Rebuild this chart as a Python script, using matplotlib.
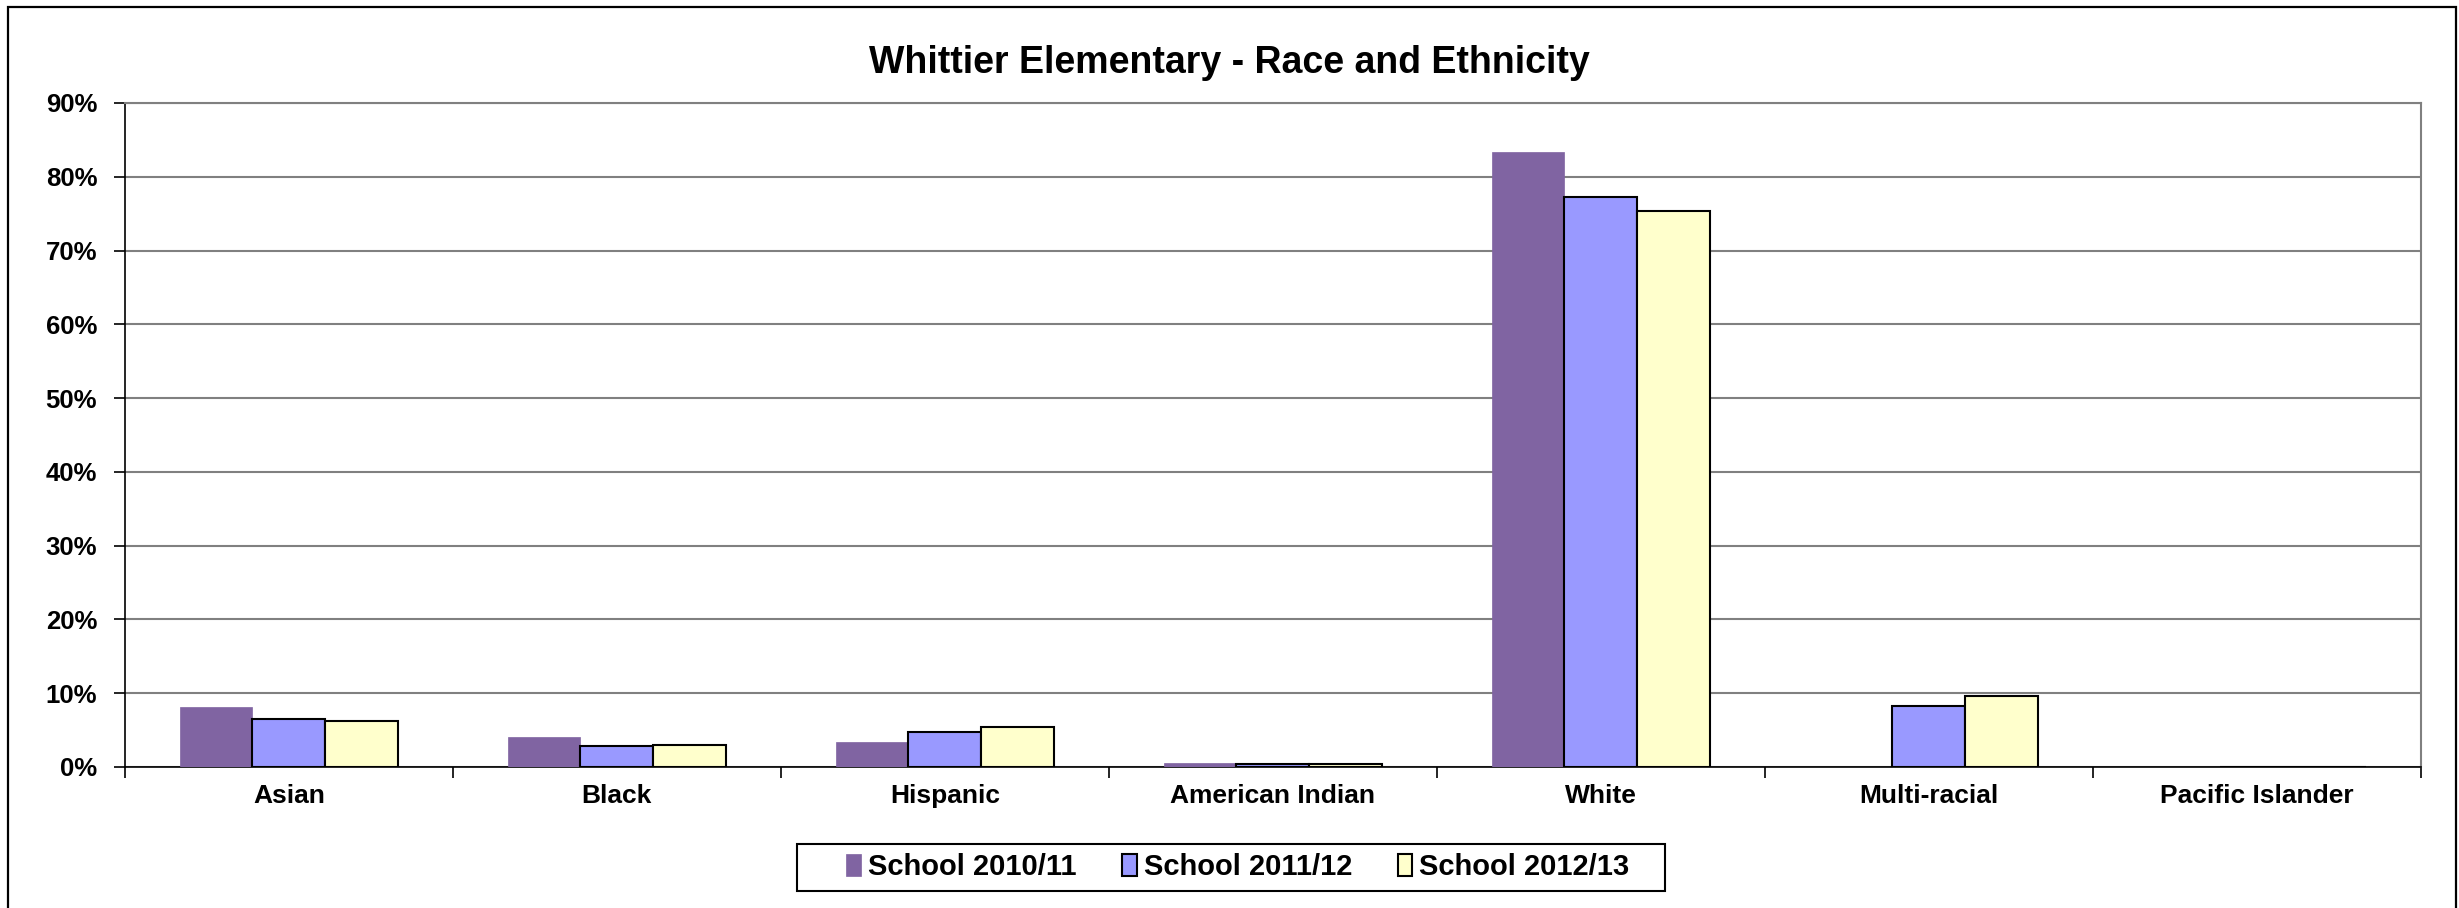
import matplotlib.pyplot as plt
import matplotlib.patches as mpatches
import numpy as np

plt.rcParams['font.family'] = ['Liberation Sans', 'DejaVu Sans']
plt.rcParams['font.weight'] = 'bold'

# data (percent)
categories = ['Asian', 'Black', 'Hispanic', 'American Indian', 'White',
              'Multi-racial', 'Pacific Islander']
school_2010 = [8.1, 4.1, 3.4, 0.6, 83.3, 0.0, 0.0]
school_2011 = [6.5, 2.8, 4.8, 0.45, 77.2, 8.3, 0.0]
school_2012 = [6.2, 3.0, 5.4, 0.4, 75.4, 9.6, 0.0]
series_names = ['School 2010/11', 'School 2011/12', 'School 2012/13']
y_ticks = [0, 10, 20, 30, 40, 50, 60, 70, 80, 90]

W, H = 2459, 908
fig = plt.figure(figsize=(W / 100, H / 100), dpi=100)
ax = fig.add_axes([0.0508, 0.1553, 0.9337, 0.7313])

# outer chart frame
fig.patches.append(mpatches.Rectangle((8 / W, -0.05), 2448 / W, 1.05 - 7 / H,
                                      transform=fig.transFigure, fill=False,
                                      edgecolor='black', lw=1.6))

x = np.arange(len(categories))
w = 2 / 9
ax.bar(x - w, school_2010, w, color='#8064A2', edgecolor='#8064A2', lw=0.5,
       label=series_names[0], zorder=3)
ax.bar(x, school_2011, w, color='#9999FF', edgecolor='black', lw=1.5,
       label=series_names[1], zorder=3)
ax.bar(x + w, school_2012, w, color='#FFFFCC', edgecolor='black', lw=1.5,
       label=series_names[2], zorder=3)

ax.set_xlim(-0.5, len(categories) - 0.5)
ax.set_ylim(0, 90)
ax.set_yticks(y_ticks)
ax.set_yticklabels([f'{v}%' for v in y_ticks], fontsize=18.5, fontweight='bold')
ax.yaxis.grid(True, color='#808080', lw=1.5, zorder=0)

ax.set_xticks(x)
ax.set_xticklabels(categories, fontsize=19, fontweight='bold')
ax.tick_params(axis='x', length=0, pad=12)
ax.set_xticks(np.arange(-0.5, len(categories)), minor=True)
ax.tick_params(axis='x', which='minor', length=8, width=1.2, color='black')
ax.tick_params(axis='y', length=8, width=1.2, pad=12)

for s in ['top', 'right']:
    ax.spines[s].set_color('#808080')
    ax.spines[s].set_linewidth(1.5)
for s in ['left', 'bottom']:
    ax.spines[s].set_color('black')
    ax.spines[s].set_linewidth(1.2)

fig.text(0.5, 1 - 63 / H, 'Whittier Elementary - Race and Ethnicity',
         ha='center', va='center', fontsize=27, fontweight='bold')

# legend box drawn separately so its padding matches
fig.patches.append(mpatches.Rectangle((797 / W, 1 - 891 / H), 868 / W, 47 / H,
                                      transform=fig.transFigure, fill=False,
                                      edgecolor='black', lw=1.5))
leg = ax.legend(loc='center', bbox_to_anchor=(1238 / W, 1 - 867 / H),
                bbox_transform=fig.transFigure, ncol=3, frameon=False,
                handlelength=0.5, handleheight=0.8, handletextpad=0.25,
                columnspacing=1.55, borderpad=0.2,
                prop={'weight': 'bold', 'size': 21})

fig.savefig('out.png', dpi=100)
